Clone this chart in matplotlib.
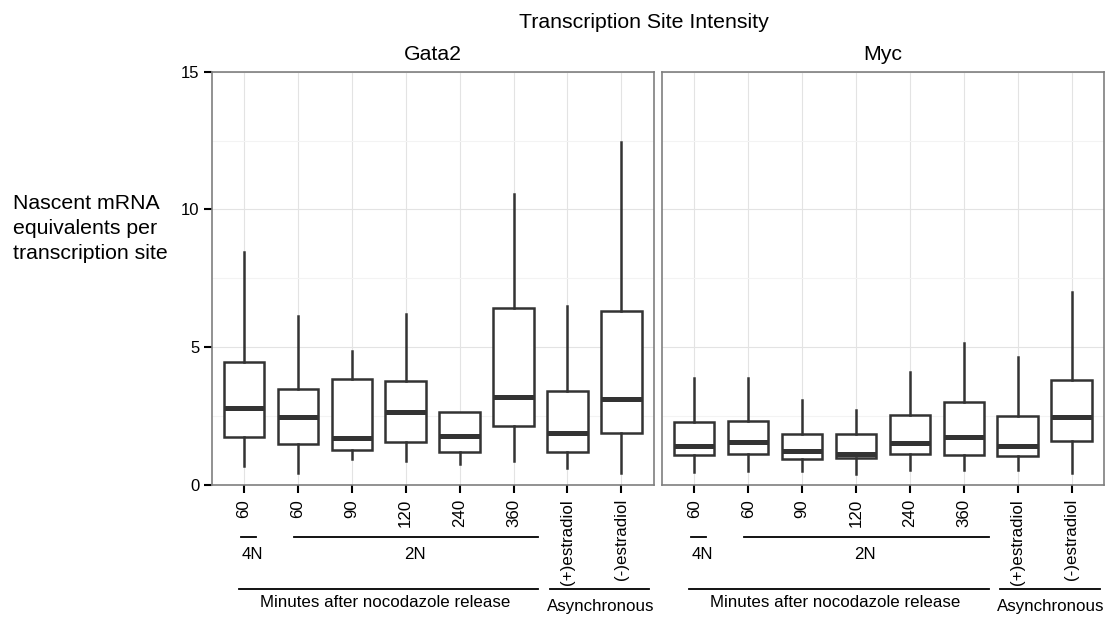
import matplotlib.pyplot as plt
from matplotlib.lines import Line2D

plt.rcParams['font.family'] = ['Liberation Sans', 'DejaVu Sans']

# categories and tick labels
categories = ['60', '60', '90', '120', '240', '360', '(+)estradiol', '(-)estradiol']
genes = ['Gata2', 'Myc']

# box stats per gene: lower whisker, Q1, median, Q3, upper whisker
gata2_low = [0.69, 0.42, 0.93, 0.88, 0.76, 0.88, 0.63, 0.42]
gata2_q1 = [1.74, 1.48, 1.27, 1.57, 1.20, 2.14, 1.20, 1.90]
gata2_med = [2.81, 2.46, 1.69, 2.65, 1.78, 3.18, 1.87, 3.13]
gata2_q3 = [4.45, 3.47, 3.83, 3.76, 2.66, 6.44, 3.40, 6.30]
gata2_high = [8.44, 6.13, 4.86, 6.19, 2.66, 10.55, 6.50, 12.45]

myc_low = [0.48, 0.51, 0.51, 0.39, 0.54, 0.54, 0.53, 0.45]
myc_q1 = [1.08, 1.12, 0.96, 0.99, 1.11, 1.10, 1.04, 1.60]
myc_med = [1.42, 1.57, 1.25, 1.12, 1.51, 1.74, 1.42, 2.46]
myc_q3 = [2.29, 2.32, 1.85, 1.84, 2.55, 3.01, 2.50, 3.81]
myc_high = [3.90, 3.87, 3.10, 2.73, 4.11, 5.17, 4.66, 7.02]

panels = [
    (gata2_low, gata2_q1, gata2_med, gata2_q3, gata2_high),
    (myc_low, myc_q1, myc_med, myc_q3, myc_high),
]

fig = plt.figure(figsize=(11.2, 6.18), dpi=100)
ax_left = [0.189, 0.591]
axes = [fig.add_axes([l, 0.2152, 0.3946, 0.6688]) for l in ax_left]

edge = '#333333'
fs = 12.2
for k, ax in enumerate(axes):
    lo, q1, med, q3, hi = panels[k]
    stats = [dict(whislo=lo[i], q1=q1[i], med=med[i], q3=q3[i], whishi=hi[i])
             for i in range(len(categories))]
    pos = list(range(1, len(categories) + 1))
    ax.bxp(stats, positions=pos, widths=0.75, showfliers=False, showcaps=False,
           patch_artist=True,
           boxprops=dict(facecolor='white', edgecolor=edge, linewidth=1.8),
           medianprops=dict(color=edge, linewidth=3.6, solid_capstyle='butt'),
           whiskerprops=dict(color=edge, linewidth=1.8))
    ax.set_xlim(0.4, 8.6)
    ax.set_ylim(0, 15)
    ax.set_yticks([0, 5, 10, 15])
    ax.set_yticks([2.5, 7.5, 12.5], minor=True)
    ax.set_xticks(pos)
    ax.set_xticklabels(categories, rotation=90, fontsize=fs)
    ax.grid(True, which='major', color='#e3e3e3', linewidth=0.8)
    ax.grid(True, which='minor', axis='y', color='#f3f3f3', linewidth=0.8)
    ax.set_axisbelow(True)
    for s in ax.spines.values():
        s.set_color('#7f7f7f')
        s.set_linewidth(1.2)
    ax.tick_params(axis='x', length=6, width=1.5, color='black', pad=4)
    ax.tick_params(axis='y', which='major', length=6, width=1.5, color='black',
                   labelsize=12, pad=3)
    ax.tick_params(axis='y', which='minor', length=0)
    if k == 1:
        ax.tick_params(axis='y', which='major', length=0, labelleft=False)
    ax.set_title(genes[k], fontsize=15.3, pad=8.5)

    # group annotations under the axis
    tr = ax.get_xaxis_transform()
    lw = 1.3
    for x0, x1, y in [(0.94, 1.22, -0.126), (1.92, 6.46, -0.126),
                      (0.90, 6.46, -0.252), (6.68, 8.52, -0.252)]:
        ax.add_line(Line2D([x0, x1], [y, y], transform=tr, color='black',
                           linewidth=lw, clip_on=False))
    ax.text(0.95, -0.167, '4N', transform=tr, ha='left', va='center', fontsize=fs)
    ax.text(4.17, -0.167, '2N', transform=tr, ha='center', va='center', fontsize=fs)
    ax.text(3.62, -0.285, 'Minutes after nocodazole release', transform=tr,
            ha='center', va='center', fontsize=fs)
    ax.text(7.62, -0.294, 'Asynchronous', transform=tr, ha='center', va='center',
            fontsize=fs)

fig.text(0.575, 0.964, 'Transcription Site Intensity', ha='center', va='center',
         fontsize=15.3)
fig.text(0.0116, 0.63, 'Nascent mRNA\nequivalents per\ntranscription site',
         ha='left', va='center', fontsize=15.3, linespacing=1.38)

fig.savefig('out.png', dpi=100)
